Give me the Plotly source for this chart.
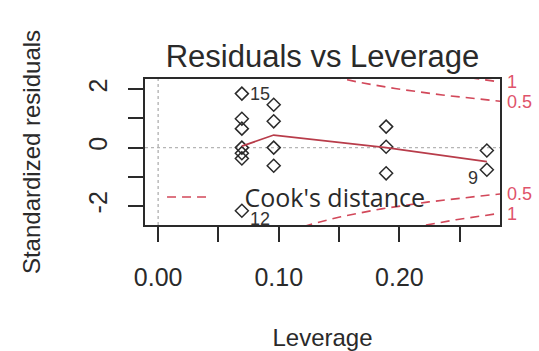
import numpy as np
import plotly.graph_objects as go

# ---- data ----
leverage = [0.0694] * 7 + [0.0958] * 4 + [0.189] * 3 + [0.2725] * 2
std_resid = [1.85, 0.99, 0.65, 0.0, -0.19, -0.37, -2.16,
             1.47, 0.90, 0.0, -0.62,
             0.72, 0.03, -0.88,
             -0.10, -0.76]
smooth_x = [0.0694, 0.0958, 0.189, 0.2725]
smooth_y = [0.05, 0.43, 0.0, -0.48]
label_idx = [0, 6, 15]          # indices of labelled observations
label_text = ["15", "12", "9"]
cook_levels = [0.5, 1.0]
n_params = 2
x_tickvals = [0.00, 0.05, 0.10, 0.15, 0.20, 0.25]
x_ticktext = ["0.00", "", "0.10", "", "0.20", ""]
y_tickvals = [-2, -1, 0, 1, 2]
y_ticktext = ["-2", "", "0", "", "2"]
x_range = [-0.0109, 0.2834]
y_range = [-2.65, 2.35]

RED_LINE = "#B83C4A"
RED_DASH = "#D2485A"
RED_TEXT = "#DF536B"
DARK = "#2a2a2a"
FONT = "Liberation Sans, Arial, sans-serif"
NB = "\u00a0"

fig = go.Figure()

# Cook's distance contours
hh = np.linspace(min(smooth_x[0], smooth_x[-1] / 100), x_range[1], 101)
for i, c in enumerate(cook_levels):
    cl = np.sqrt(c * n_params * (1 - hh) / hh)
    for sgn in (1, -1):
        fig.add_trace(go.Scatter(
            x=hh, y=sgn * cl, mode="lines",
            line=dict(color=RED_DASH, width=1.6, dash="9px,6px"),
            name=NB * 5 + "Cook's distance",
            showlegend=(i == 0 and sgn == 1),
            hoverinfo="skip"))

# points
fig.add_trace(go.Scatter(
    x=leverage, y=std_resid, mode="markers",
    marker=dict(symbol="diamond-open", size=10, color=DARK,
                line=dict(color=DARK, width=1.5)),
    showlegend=False))

# smoother
fig.add_trace(go.Scatter(
    x=smooth_x, y=smooth_y, mode="lines",
    line=dict(color=RED_LINE, width=1.7), showlegend=False))

# right axis for Cook's level labels
xmax = x_range[1]
aty = [np.sqrt(c * n_params * (1 - xmax) / xmax) for c in cook_levels]
right_vals = [-a for a in reversed(aty)] + aty
right_text = [f"{c:g}" for c in reversed(cook_levels)] + [f"{c:g}" for c in cook_levels]
fig.add_trace(go.Scatter(x=[None], y=[None], yaxis="y2", showlegend=False))

# reference lines at 0
fig.add_hline(y=0, line=dict(color="#b5b5b5", width=1.4, dash="3px,3px"), layer="below")
fig.add_vline(x=0, line=dict(color="#b5b5b5", width=1.4, dash="3px,3px"), layer="below")

# observation labels
for idx, t in zip(label_idx, label_text):
    left = leverage[idx] > 0.2
    fig.add_annotation(
        x=leverage[idx], y=std_resid[idx], text=t, showarrow=False,
        xanchor="right" if left else "left",
        xshift=-7 if left else 6,
        yshift=-8 if (left or std_resid[idx] < -1) else 0,
        font=dict(size=18, color="#333333", family=FONT))

fig.update_layout(
    width=539, height=351,
    margin=dict(l=145, r=39, t=79, b=126, autoexpand=False),
    paper_bgcolor="white", plot_bgcolor="white",
    font=dict(family=FONT, size=24, color=DARK),
    title=dict(text="Residuals vs Leverage", x=0.5, xref="paper",
               y=1 - 56 / 351, yref="container", yanchor="middle",
               xanchor="center", font=dict(size=31, color=DARK)),
    xaxis=dict(range=x_range, tickvals=x_tickvals, ticktext=x_ticktext,
               automargin=True,
               showgrid=False, zeroline=False, showline=True, mirror=True,
               linecolor=DARK, linewidth=2, ticks="outside", ticklen=15,
               tickwidth=2, tickcolor=DARK, ticklabelstandoff=14,
               tickfont=dict(size=25, color=DARK),
               title=dict(text="Leverage", standoff=40,
                          font=dict(size=24, color=DARK))),
    yaxis=dict(range=y_range, tickvals=y_tickvals, ticktext=y_ticktext,
               automargin=False,
               showgrid=False, zeroline=False, showline=True, mirror=True,
               linecolor=DARK, linewidth=2, ticks="outside", ticklen=15,
               tickwidth=2, tickcolor=DARK, tickangle=-90,
               ticklabelstandoff=11,
               tickfont=dict(size=25, color=DARK),
               title=dict(text="Standardized residuals", standoff=37,
                          font=dict(size=24, color=DARK))),
    yaxis2=dict(range=y_range, overlaying="y", side="right",
                automargin=False,
                tickvals=right_vals, ticktext=right_text,
                showgrid=False, zeroline=False, showline=False, ticks="",
                ticklabelstandoff=6,
                tickfont=dict(size=18, color=RED_TEXT)),
    legend=dict(x=0.048, y=0.19, xanchor="left", yanchor="middle",
                bgcolor="rgba(0,0,0,0)", borderwidth=0,
                font=dict(size=25, color=DARK, family="Open Sans, sans-serif"),
                itemwidth=40),
    showlegend=True,
)

fig.write_html("out.html")
